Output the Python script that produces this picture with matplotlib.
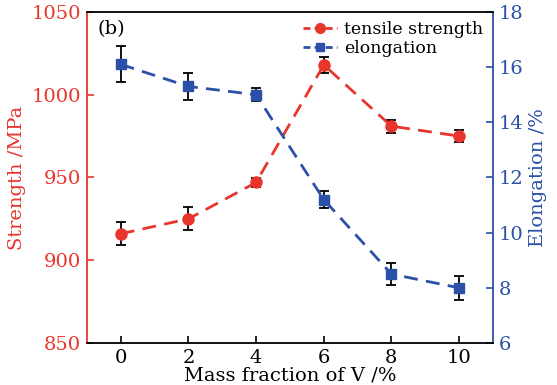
import matplotlib
matplotlib.use("Agg")
import matplotlib.pyplot as plt
from matplotlib.lines import Line2D

RED = "#e8352c"
BLUE = "#2b50a8"

# mass fraction of V (%)
v_frac = [0, 2, 4, 6, 8, 10]

# tensile strength (MPa) and its error
strength = [916, 925, 947, 1018, 981, 975]
strength_err = [7, 7, 2.5, 5, 4, 3.5]

# elongation (%) and its error
elongation = [16.1, 15.3, 15.0, 11.2, 8.5, 8.0]
elongation_err = [0.65, 0.48, 0.24, 0.3, 0.4, 0.43]

plt.rcParams["font.family"] = ["DejaVu Serif"]

fig = plt.figure(figsize=(5.57, 3.85), dpi=100)
ax = fig.add_axes([0.156, 0.109, 0.729, 0.860])
ax2 = ax.twinx()

ax.errorbar(v_frac, strength, yerr=strength_err, color=RED, ls=(0, (5, 3)),
            lw=2, marker="o", ms=8, ecolor="black", elinewidth=1.3,
            capsize=3.5, capthick=1.3, zorder=3)
ax2.errorbar(v_frac, elongation, yerr=elongation_err, color=BLUE,
             ls=(0, (5, 3)), lw=2, marker="s", ms=7, ecolor="black",
             elinewidth=1.3, capsize=3.5, capthick=1.3, zorder=3)

ax.set_xlim(-1, 11)
ax.set_ylim(850, 1050)
ax2.set_ylim(6, 18)
ax.set_xticks(v_frac)
ax.set_yticks([850, 900, 950, 1000, 1050])
ax2.set_yticks([6, 8, 10, 12, 14, 16, 18])

ax.tick_params(axis="x", direction="in", length=5, width=1.2, labelsize=14,
               pad=4, top=False)
ax.tick_params(axis="y", direction="in", length=5, width=1.2, labelsize=14,
               colors=RED, pad=4)
ax2.tick_params(axis="y", direction="in", length=5, width=1.2, labelsize=14,
                colors=BLUE, pad=4)

for s in ("top", "bottom"):
    ax2.spines[s].set_linewidth(1.3)
    ax2.spines[s].set_color("black")
ax2.spines["left"].set_color(RED)
ax2.spines["left"].set_linewidth(1.3)
ax2.spines["right"].set_color(BLUE)
ax2.spines["right"].set_linewidth(1.3)
for s in ax.spines.values():
    s.set_visible(False)

ax.set_xlabel("Mass fraction of V /%", fontsize=14, labelpad=0)
ax.set_ylabel("Strength /MPa", fontsize=14, color=RED, labelpad=4)
ax2.set_ylabel("Elongation /%", fontsize=14, color=BLUE, labelpad=4)

ax.text(0.025, 0.975, "(b)", transform=ax.transAxes, fontsize=14,
        ha="left", va="top")

handles = [
    Line2D([], [], color=RED, ls=(0, (2.5, 1.5)), lw=2, marker="o", ms=7),
    Line2D([], [], color=BLUE, ls=(0, (2.5, 1.5)), lw=2, marker="s", ms=6),
]
ax2.legend(handles, ["tensile strength", "elongation"], loc="upper right",
           frameon=False, fontsize=12.5, handlelength=2.0, handletextpad=0.4,
           borderaxespad=0.15, labelspacing=0.1)

fig.savefig("out.png", dpi=100)
